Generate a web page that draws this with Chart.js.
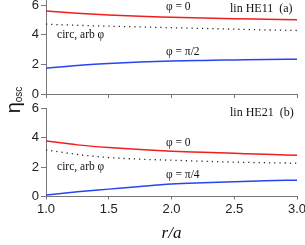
<!DOCTYPE html>
<html>
<head>
<meta charset="utf-8">
<script src="https://cdn.jsdelivr.net/npm/chart.js@4.4.0/dist/chart.umd.min.js"></script>
<style>
  body { margin: 0; background: #fff; width: 305px; height: 245px; overflow: hidden; position: relative; }
  canvas { position: absolute; left: 0; }
  #topChart { top: 0; }
  #botChart { top: 100px; }
  #ylab {
    position: absolute; left: -4px; top: 88px; width: 34px; height: 24px; line-height: 24px;
    text-align: center; transform: rotate(-90deg);
    font-family: 'Liberation Sans', Arial, sans-serif; font-size: 20px; color: #111; white-space: nowrap;
  }
  #ylab sub { font-size: 10px; vertical-align: -2px; }
</style>
</head>
<body>
<canvas id="topChart" width="305" height="100"></canvas>
<canvas id="botChart" width="305" height="145"></canvas>
<div id="ylab">η<sub>osc</sub></div>
<script>
// r/a sample points
var ra = [1.0, 1.25, 1.5, 1.75, 2.0, 2.25, 2.5, 2.75, 3.0];

// panel (a): lin HE11
var aPhi0   = [5.60, 5.45, 5.33, 5.25, 5.19, 5.13, 5.08, 5.05, 5.02];
var aCirc   = [4.72, 4.64, 4.58, 4.53, 4.48, 4.43, 4.38, 4.33, 4.29];
var aPhiPi2 = [1.74, 1.93, 2.06, 2.16, 2.23, 2.27, 2.30, 2.33, 2.35];

// panel (b): lin HE21
var bPhi0   = [3.76, 3.50, 3.32, 3.18, 3.07, 3.00, 2.93, 2.86, 2.80];
var bCirc   = [3.16, 2.85, 2.64, 2.53, 2.46, 2.39, 2.33, 2.29, 2.26];
var bPhiPi4 = [0.10, 0.32, 0.50, 0.68, 0.84, 0.93, 1.00, 1.06, 1.11];

var yTicks = [0, 2, 4, 6];
var xTicks = [1.0, 1.5, 2.0, 2.5, 3.0];

// text labels inside each panel: [text, r/a, eta]
var aNotes = [['φ = 0', 1.956, 5.88], ['lin HE11  (a)', 2.466, 5.72], ['circ, arb φ', 1.088, 3.99], ['φ = π/2', 1.956, 2.84]];
var bNotes = [['lin HE21  (b)', 2.466, 5.68], ['φ = 0', 1.956, 3.66], ['circ, arb φ', 1.088, 1.99], ['φ = π/4', 1.956, 1.45]];

var RED = 'rgb(240,30,30)';
var BLUE = 'rgb(40,70,240)';
var AXIS = '#777';
var tickFont = { family: "'Liberation Sans', Arial, sans-serif", size: 13 };

function pts(arr) {
  return ra.map(function (x, i) { return { x: x, y: arr[i] }; });
}

function notesPlugin(notes) {
  return {
    id: 'notes',
    afterDatasetsDraw: function (chart) {
      var c = chart.ctx, xs = chart.scales.x, ys = chart.scales.y;
      c.save();
      c.fillStyle = '#111';
      c.textAlign = 'left';
      c.textBaseline = 'middle';
      notes.forEach(function (n) {
        c.font = (n[0].indexOf('lin') === 0 ? '12px' : '11.5px') + " 'Liberation Serif', 'Times New Roman', serif";
        c.fillText(n[0], xs.getPixelForValue(n[1]), ys.getPixelForValue(n[2]));
      });
      c.restore();
    }
  };
}

function makeChart(id, red, circ, blue, notes, bottom) {
  return new Chart(document.getElementById(id), {
    type: 'line',
    data: {
      datasets: [
        { data: pts(red), borderColor: RED, borderWidth: 1.5, pointRadius: 0, cubicInterpolationMode: 'monotone' },
        { data: pts(circ), borderColor: '#222', borderWidth: 1.3, borderDash: [1.2, 4], pointRadius: 0, cubicInterpolationMode: 'monotone' },
        { data: pts(blue), borderColor: BLUE, borderWidth: 1.5, pointRadius: 0, cubicInterpolationMode: 'monotone' }
      ]
    },
    options: {
      responsive: false,
      animation: false,
      events: [],
      layout: { padding: { left: 0, right: 8, top: bottom ? 8 : 0, bottom: 0 } },
      plugins: { legend: { display: false }, tooltip: { enabled: false } },
      scales: {
        x: {
          type: 'linear', min: 1, max: 3,
          afterBuildTicks: function (s) { s.ticks = xTicks.map(function (v) { return { value: v }; }); },
          border: { color: AXIS, width: 1 },
          grid: { drawOnChartArea: false, drawTicks: true, tickLength: bottom ? 3 : 4, color: AXIS },
          ticks: { display: bottom, padding: 2, color: '#222', font: tickFont, maxRotation: 0,
                   callback: function (v) { return v.toFixed(1); } },
          title: { display: bottom, text: 'r/a', color: '#111', padding: { top: 0, bottom: 1 },
                   font: { family: "'Liberation Serif', 'Times New Roman', serif", size: 17, style: 'italic' } },
          afterFit: function (s) { s.height = bottom ? 48.5 : 6; s.paddingLeft = 0; s.paddingRight = 0; }
        },
        y: {
          min: 0, max: bottom ? 6 : 6.35,
          afterBuildTicks: function (s) { s.ticks = yTicks.map(function (v) { return { value: v }; }); },
          border: { color: AXIS, width: 1 },
          grid: { drawOnChartArea: false, drawTicks: true, tickLength: 5, color: AXIS },
          ticks: { padding: 2, color: '#222', font: tickFont },
          afterFit: function (s) { s.width = 46; s.paddingTop = 0; s.paddingBottom = 0; }
        }
      }
    },
    plugins: [notesPlugin(notes)]
  });
}

makeChart('topChart', aPhi0, aCirc, aPhiPi2, aNotes, false);
makeChart('botChart', bPhi0, bCirc, bPhiPi4, bNotes, true);
</script>
</body>
</html>
